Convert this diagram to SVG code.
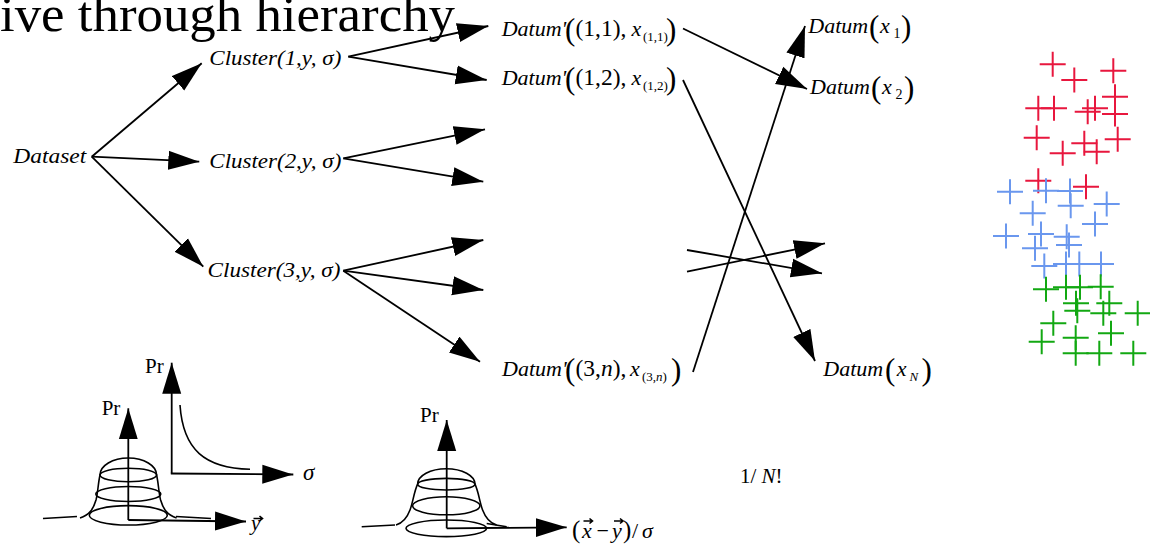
<svg xmlns="http://www.w3.org/2000/svg" xmlns:xlink="http://www.w3.org/1999/xlink" width="1150" height="554" viewBox="0 0 1150 554">
<style>
.t{font-family:"Liberation Serif","Times New Roman",serif;fill:#000}
.i{font-style:italic}
.ln{stroke:#000;stroke-width:1.8;fill:none}
.ar{stroke:#000;stroke-width:1.8;fill:none;marker-end:url(#ah)}
.sh{stroke:#000;stroke-width:1.6;fill:none}
.red{stroke:#e8173e;stroke-width:2}
.blue{stroke:#6a97ee;stroke-width:2}
.green{stroke:#12a812;stroke-width:2}
</style>
<defs>
<marker id="ah" viewBox="0 0 31 20" refX="31" refY="10" markerWidth="31" markerHeight="20" markerUnits="userSpaceOnUse" orient="auto">
<path d="M0,0.5 L31,10 L0,19.5 Z" fill="#000"/>
</marker>
<path id="cr" d="M-13,0H13M0,-12.5V12.5" fill="none"/>
</defs>
<rect width="1150" height="554" fill="#fff"/>

<g id="title"><text class="t" x="0" y="31" font-size="51" textLength="455" lengthAdjust="spacingAndGlyphs">ive through hierarchy</text></g>

<g id="connectors">
<line class="ar" x1="91.7" y1="156.7" x2="201.7" y2="63.3"/>
<line class="ar" x1="91.7" y1="156.7" x2="199.3" y2="161.7"/>
<line class="ar" x1="91.7" y1="156.7" x2="203.3" y2="266.7"/>
<line class="ar" x1="348.3" y1="56.7" x2="488.3" y2="26"/>
<line class="ar" x1="348.3" y1="56.7" x2="486.7" y2="80"/>
<line class="ar" x1="343.3" y1="158.3" x2="485" y2="129.3"/>
<line class="ar" x1="343.3" y1="158.3" x2="483.3" y2="181.7"/>
<line class="ar" x1="343.3" y1="270.7" x2="483.3" y2="240"/>
<line class="ar" x1="343.3" y1="270.7" x2="483.3" y2="290"/>
<line class="ar" x1="343.3" y1="270.7" x2="480" y2="361.7"/>
<line class="ar" x1="683" y1="28.5" x2="807" y2="89"/>
<line class="ar" x1="683" y1="80" x2="815" y2="361"/>
<line class="ar" x1="693" y1="372" x2="805" y2="26"/>
<line class="ar" x1="687" y1="250" x2="822" y2="273.3"/>
<line class="ar" x1="687" y1="271.7" x2="825" y2="243.3"/>
</g>

<g id="dataset"><text class="t i" x="13.3" y="163.3" font-size="21" textLength="73" lengthAdjust="spacingAndGlyphs">Dataset</text></g>
<g id="cluster1"><text class="t i" x="209.3" y="65" font-size="21" textLength="132" lengthAdjust="spacingAndGlyphs">Cluster(1,y, σ)</text></g>
<g id="cluster2"><text class="t i" x="209.3" y="168.3" font-size="21" textLength="132" lengthAdjust="spacingAndGlyphs">Cluster(2,y, σ)</text></g>
<g id="cluster3"><text class="t i" x="207.5" y="276.7" font-size="21" textLength="133" lengthAdjust="spacingAndGlyphs">Cluster(3,y, σ)</text></g>

<g id="datum11">
<text class="t" y="36" font-size="23.5"><tspan class="i" x="501.7" font-size="22">Datum'</tspan><tspan x="565" y="39.5" font-size="31">(</tspan><tspan x="575.5" y="36">(1,1),</tspan><tspan class="i" x="631.5" font-size="22">x</tspan><tspan x="643" y="41" font-size="13">(1,1)</tspan><tspan x="666" y="39.5" font-size="31">)</tspan></text>
</g>
<g id="datum12">
<text class="t" y="85" font-size="23.5"><tspan class="i" x="501.7" font-size="22">Datum'</tspan><tspan x="565" y="88.5" font-size="31">(</tspan><tspan x="575.5" y="85">(1,2),</tspan><tspan class="i" x="631.5" font-size="22">x</tspan><tspan x="643" y="90" font-size="13">(1,2)</tspan><tspan x="666" y="88.5" font-size="31">)</tspan></text>
</g>
<g id="datum3n">
<text class="t" y="376" font-size="23.5"><tspan class="i" x="502" font-size="22">Datum'</tspan><tspan x="565" y="379.5" font-size="31">(</tspan><tspan x="575.5" y="376">(3,</tspan><tspan class="i">n</tspan><tspan>),</tspan><tspan class="i" x="630" font-size="22">x</tspan><tspan x="642" y="381" font-size="13">(3,</tspan><tspan class="i" font-size="13">n</tspan><tspan font-size="13">)</tspan><tspan x="671" y="379.5" font-size="31">)</tspan></text>
</g>

<g id="datumx1">
<text class="t" y="33" font-size="22"><tspan class="i" x="808.3">Datum</tspan><tspan x="869" y="36.5" font-size="31">(</tspan><tspan class="i" x="880" y="33">x</tspan><tspan x="893.5" y="38" font-size="14">1</tspan><tspan x="901" y="36.5" font-size="31">)</tspan></text>
</g>
<g id="datumx2">
<text class="t" y="94" font-size="22"><tspan class="i" x="810">Datum</tspan><tspan x="871" y="97.5" font-size="31">(</tspan><tspan class="i" x="882" y="94">x</tspan><tspan x="895.5" y="99" font-size="14">2</tspan><tspan x="904" y="97.5" font-size="31">)</tspan></text>
</g>
<g id="datumxN">
<text class="t" y="376" font-size="22"><tspan class="i" x="823.3">Datum</tspan><tspan x="885" y="379.5" font-size="31">(</tspan><tspan class="i" x="896.7" y="376">x</tspan><tspan class="i" x="909.5" y="381" font-size="13">N</tspan><tspan x="921.5" y="379.5" font-size="31">)</tspan></text>
</g>

<g id="graph-sigma">
<line class="ar" x1="171.7" y1="473.5" x2="171.7" y2="362.7"/>
<line class="ar" x1="170.8" y1="473.5" x2="293.3" y2="474.5"/>
<path class="sh" d="M180,405 C183,450 205,468 250,469.3"/>
<text class="t" x="145" y="373.3" font-size="21">Pr</text>
<text class="t i" x="303" y="480" font-size="23">σ</text>
</g>

<g id="graph-y">
<line class="ar" x1="128.3" y1="520" x2="128.3" y2="408.3"/>
<line class="ar" x1="128.3" y1="520" x2="246" y2="521.5"/>
<path class="sh" d="M43,518.5 L77,516.5"/>
<path class="sh" d="M176,516.5 L211,518.5"/>
<path class="sh" d="M80,518 C89,515 93,510 96,500 C98,492 98,484 100,475 A28.3,17 0 0 1 156.6,475 C158.6,484 158.6,492 160.6,500 C163.6,510 167.6,515 176.6,518"/>
<ellipse class="sh" cx="128.3" cy="475" rx="28.3" ry="6.7"/>
<ellipse class="sh" cx="128.3" cy="494" rx="32.5" ry="7.5"/>
<ellipse class="sh" cx="128.3" cy="515.3" rx="39" ry="9.7"/>
<text class="t" x="101.7" y="415" font-size="21">Pr</text>
<text class="t i" x="251" y="530" font-size="21">y</text>
<path class="sh" d="M253.5,518.5 H262.5 M259.5,516 L262.5,518.5 L259.5,521" stroke-width="1"/>
</g>

<g id="graph-xy">
<line class="ar" x1="446.7" y1="528.3" x2="446.7" y2="420"/>
<line class="ar" x1="446.7" y1="528.3" x2="566.7" y2="527.3"/>
<path class="sh" d="M361.7,526.7 L395,525"/>
<path class="sh" d="M486.7,523.5 L506.7,526.7"/>
<path class="sh" d="M396,525 C403,523 407,518 410,510 C413,502 414,492 417.6,484.2 A28.7,15.5 0 0 1 475,484.2 C478.6,492 479.6,502 482.6,510 C485.6,518 489.6,523 496.6,525"/>
<ellipse class="sh" cx="446.3" cy="484.2" rx="28.7" ry="5.8"/>
<ellipse class="sh" cx="446.3" cy="505.8" rx="33.7" ry="9"/>
<ellipse class="sh" cx="446.3" cy="528.3" rx="40.3" ry="8.3"/>
<text class="t" x="420" y="422.3" font-size="21">Pr</text>
<text class="t" y="538.3" font-size="22"><tspan x="572" font-size="25">(</tspan><tspan class="i" x="582">x</tspan><tspan x="596.5">−</tspan><tspan class="i" x="612">y</tspan><tspan x="623" font-size="25">)</tspan><tspan x="632">/</tspan><tspan class="i" x="642">σ</tspan></text>
<path class="sh" d="M583.5,521 H592.5 M589.5,518.5 L592.5,521 L589.5,523.5 M614,521 H623 M620,518.5 L623,521 L620,523.5" stroke-width="1"/>
</g>

<g id="norm"><text class="t" y="483.3" font-size="21"><tspan x="740">1/ </tspan><tspan class="i">N</tspan><tspan>!</tspan></text></g>

<g id="scatter">
<g class="red">
<use href="#cr" x="1052.7" y="64.3"/><use href="#cr" x="1074.3" y="80"/><use href="#cr" x="1113.3" y="70.7"/>
<use href="#cr" x="1038.3" y="108.3"/><use href="#cr" x="1054" y="108.3"/><use href="#cr" x="1087.7" y="111.7"/>
<use href="#cr" x="1095" y="108.3"/><use href="#cr" x="1115" y="96.7"/><use href="#cr" x="1115" y="114"/>
<use href="#cr" x="1036.7" y="137.7"/><use href="#cr" x="1062.7" y="153.3"/><use href="#cr" x="1084.3" y="143.3"/>
<use href="#cr" x="1096.7" y="151.7"/><use href="#cr" x="1117.7" y="139.3"/><use href="#cr" x="1038.3" y="180.7"/>
<use href="#cr" x="1086" y="186.7"/>
</g>
<g class="blue">
<use href="#cr" x="1010" y="191.7"/><use href="#cr" x="1046" y="190.7"/><use href="#cr" x="1070" y="191"/>
<use href="#cr" x="1070.7" y="205.7"/><use href="#cr" x="1106.7" y="204"/><use href="#cr" x="1032.7" y="213.3"/>
<use href="#cr" x="1095" y="224"/><use href="#cr" x="1006" y="236"/><use href="#cr" x="1041" y="234"/>
<use href="#cr" x="1035" y="248.3"/><use href="#cr" x="1066.7" y="236.7"/><use href="#cr" x="1069" y="245"/>
<use href="#cr" x="1044.3" y="266"/><use href="#cr" x="1066" y="264"/><use href="#cr" x="1079.3" y="264"/>
<use href="#cr" x="1101" y="264"/>
</g>
<g class="green">
<use href="#cr" x="1046" y="289.3"/><use href="#cr" x="1066" y="287.3"/><use href="#cr" x="1080" y="287.3"/>
<use href="#cr" x="1100.7" y="286.7"/><use href="#cr" x="1076" y="303.3"/><use href="#cr" x="1077.3" y="310.7"/>
<use href="#cr" x="1109.3" y="303.3"/><use href="#cr" x="1103.3" y="313.3"/><use href="#cr" x="1137.7" y="313.3"/>
<use href="#cr" x="1053.3" y="323.3"/><use href="#cr" x="1111" y="333.3"/><use href="#cr" x="1041.7" y="341.7"/>
<use href="#cr" x="1075.7" y="337.7"/><use href="#cr" x="1075.7" y="353.3"/><use href="#cr" x="1099.3" y="353.3"/>
<use href="#cr" x="1133.3" y="353.3"/>
</g>
</g>
</svg>
